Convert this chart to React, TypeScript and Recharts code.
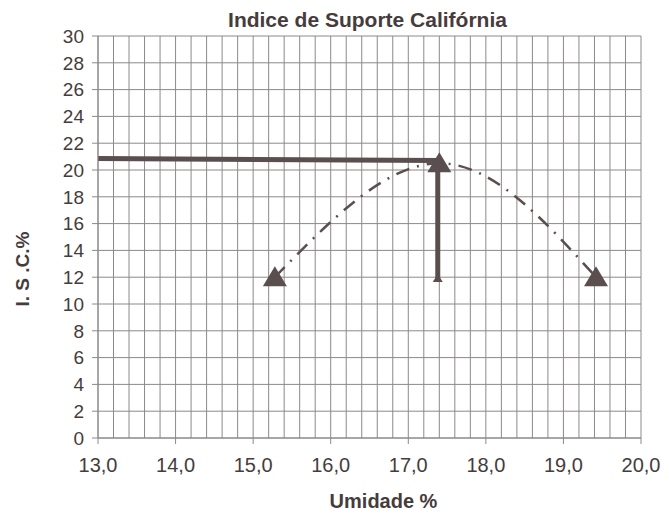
import React from 'react';
import { ComposedChart, XAxis, YAxis, CartesianGrid, Line, Scatter, Label } from 'recharts';

// Data
const umidade = [15.28, 17.4, 19.42];
const isc = [12.0, 20.5, 12.0];
const hLineX = [13.0, 17.4];
const hLineY = [20.85, 20.7];
const vLineX = [17.38, 17.38];
const vLineY = [11.8, 20.5];
const xTicks = [
  13.0, 13.2, 13.4, 13.6, 13.8, 14.0, 14.2, 14.4, 14.6, 14.8, 15.0, 15.2, 15.4, 15.6, 15.8,
  16.0, 16.2, 16.4, 16.6, 16.8, 17.0, 17.2, 17.4, 17.6, 17.8, 18.0, 18.2, 18.4, 18.6, 18.8,
  19.0, 19.2, 19.4, 19.6, 19.8, 20.0,
];
const yTicks = [0, 2, 4, 6, 8, 10, 12, 14, 16, 18, 20, 22, 24, 26, 28, 30];

const curveData = umidade.map((x, i) => ({ x, y: isc[i] }));
const hData = hLineX.map((x, i) => ({ x, y: hLineY[i] }));
const vData = vLineX.map((x, i) => ({ x, y: vLineY[i] }));

const INK = '#5a4e4e';
const TEXT = '#463c3c';
const GRID = '#8e8888';
const FONT = '"Liberation Sans", Arial, sans-serif';

const XTick = (props: any) => {
  const { x, y, payload } = props;
  const v = payload.value as number;
  if (Math.abs(v - Math.round(v)) > 1e-6) return null;
  return (
    <g>
      <line x1={x} x2={x} y1={y} y2={y + 6} stroke={GRID} strokeWidth={1} />
      <text x={x} y={y + 34} textAnchor="middle" fontSize={20} fill={TEXT} fontFamily={FONT}>
        {v.toFixed(1).replace('.', ',')}
      </text>
    </g>
  );
};

const Triangle = (props: any) => {
  const { cx, cy } = props;
  if (cx == null || cy == null) return null;
  return <polygon points={`${cx},${cy - 11} ${cx - 12},${cy + 9} ${cx + 12},${cy + 9}`} fill={INK} />;
};

const SmallEnd = (props: any) => {
  const { cx, cy, index } = props;
  if (index !== 0) return null;
  return <polygon key={index} points={`${cx},${cy - 6} ${cx - 5},${cy + 2} ${cx + 5},${cy + 2}`} fill={INK} />;
};

const XLabel = (props: any) => {
  const vb = props.viewBox || {};
  const cx = vb.x + vb.width / 2 + 14;
  return (
    <text x={cx} y={508} textAnchor="middle" fontSize={20} fontWeight="bold" fill={TEXT} fontFamily={FONT}>
      Umidade %
    </text>
  );
};

const YLabel = (props: any) => {
  const vb = props.viewBox || {};
  const cy = vb.y + vb.height / 2 + 32;
  const cx = 29;
  return (
    <text
      x={cx}
      y={cy}
      transform={`rotate(-90, ${cx}, ${cy})`}
      textAnchor="middle"
      fontSize={19}
      fontWeight="bold"
      fill={TEXT}
      fontFamily={FONT}
    >
      I. S .C.%
    </text>
  );
};

export default function App() {
  return (
    <div style={{ position: 'absolute', left: 0, top: 0, width: 669, height: 514, background: '#fff' }}>
      <div
        style={{
          position: 'absolute',
          left: 0,
          top: 7,
          width: 735,
          textAlign: 'center',
          fontFamily: FONT,
          fontWeight: 'bold',
          fontSize: 21,
          lineHeight: '26px',
          color: TEXT,
        }}
      >
        Indice de Suporte Califórnia
      </div>
      <ComposedChart width={669} height={514} margin={{ top: 36, right: 28, bottom: 0, left: 0 }}>
        <CartesianGrid stroke={GRID} strokeWidth={1} />
        <XAxis
          type="number"
          dataKey="x"
          domain={[13, 20]}
          ticks={xTicks}
          interval={0}
          tick={<XTick />}
          tickLine={false}
          tickSize={0}
          tickMargin={0}
          height={76}
          stroke={GRID}
          allowDataOverflow
        >
          <Label content={<XLabel />} />
        </XAxis>
        <YAxis
          type="number"
          dataKey="y"
          domain={[0, 30]}
          ticks={yTicks}
          interval={0}
          width={98}
          tickSize={6}
          tickMargin={8}
          stroke={GRID}
          tick={{ fontSize: 19, fill: TEXT, fontFamily: FONT }}
        >
          <Label content={<YLabel />} />
        </YAxis>
        <Line
          data={curveData}
          dataKey="y"
          type="natural"
          stroke={INK}
          strokeWidth={2.5}
          strokeDasharray="14 8 2 8"
          dot={false}
          activeDot={false}
          isAnimationActive={false}
        />
        <Line
          data={hData}
          dataKey="y"
          type="linear"
          stroke={INK}
          strokeWidth={5}
          dot={false}
          activeDot={false}
          isAnimationActive={false}
        />
        <Line
          data={vData}
          dataKey="y"
          type="linear"
          stroke={INK}
          strokeWidth={5}
          dot={<SmallEnd />}
          activeDot={false}
          isAnimationActive={false}
        />
        <Scatter data={curveData} dataKey="y" shape={<Triangle />} isAnimationActive={false} />
      </ComposedChart>
    </div>
  );
}
